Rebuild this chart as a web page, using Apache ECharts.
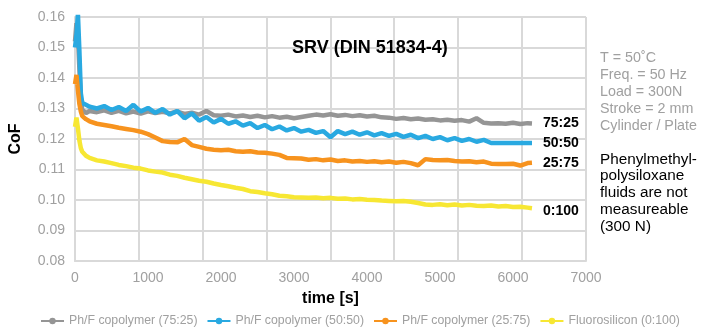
<!DOCTYPE html>
<html>
<head>
<meta charset="utf-8">
<script src="https://cdn.jsdelivr.net/npm/echarts@6/dist/echarts.min.js"></script>
<style>html,body{margin:0;padding:0;background:#fff}#c{width:707px;height:328px}</style>
</head>
<body>
<div id="c"></div>
<script>
const time = [0,20,40,60,80,100,150,200,
  300,400,500,600,700,800,900,1000,1100,1200,
  1300,1400,1500,1600,1700,1800,1900,2000,2100,2200,
  2300,2400,2500,2600,2700,2800,2900,3000,3100,3200,
  3300,3400,3500,3600,3700,3800,3900,4000,4100,4200,
  4300,4400,4500,4600,4700,4800,4900,5000,5100,5200,
  5300,5400,5500,5600,5700,5800,5900,6000,6100,6200,
  6260];
const cof7525 = [0.152,0.158,0.154,0.143,0.133,0.1295,0.1285,0.1292,
  0.1288,0.1294,0.1286,0.1292,0.1284,0.1290,0.1283,0.1291,0.1285,0.1289,
  0.1284,0.1290,0.1282,0.1286,0.1280,0.1292,0.1278,0.1276,0.1280,0.1274,
  0.1277,0.1272,0.1276,0.1271,0.1275,0.1270,0.1273,0.1268,0.1272,0.1276,
  0.1280,0.1277,0.1281,0.1276,0.1279,0.1275,0.1278,0.1274,0.1276,0.1271,
  0.1270,0.1266,0.1269,0.1265,0.1267,0.1263,0.1265,0.1261,0.1263,0.1260,
  0.1262,0.1257,0.1268,0.1253,0.1251,0.1252,0.1250,0.1253,0.1249,0.1252,
  0.1251];
const cof5050 = [0.150,0.154,0.161,0.149,0.135,0.1318,0.1312,0.1306,
  0.1300,0.1308,0.1295,0.1305,0.1292,0.1312,0.1290,0.1302,0.1286,0.1298,
  0.1280,0.1292,0.1268,0.1284,0.1260,0.1272,0.1254,0.1266,0.1250,0.1258,
  0.1244,0.1252,0.1236,0.1246,0.1232,0.1241,0.1228,0.1236,0.1224,0.1230,
  0.1220,0.1226,0.1206,0.1226,0.1216,0.1224,0.1214,0.1222,0.1212,0.1219,
  0.1210,0.1217,0.1207,0.1214,0.1203,0.1210,0.1200,0.1206,0.1196,0.1203,
  0.1194,0.1200,0.1191,0.1197,0.1187,0.1187,0.1187,0.1187,0.1187,0.1187,
  0.1187];
const cof2575 = [0.138,0.141,0.136,0.1315,0.129,0.1275,0.1265,0.1258,
  0.1250,0.1246,0.1242,0.1237,0.1233,0.1229,0.1224,0.1216,0.1205,0.1193,
  0.1190,0.1189,0.1200,0.1180,0.1174,0.1168,0.1165,0.1163,0.1165,0.1160,
  0.1158,0.1160,0.1156,0.1155,0.1152,0.1148,0.1138,0.1137,0.1136,0.1132,
  0.1134,0.1130,0.1133,0.1128,0.1130,0.1126,0.1128,0.1125,0.1127,0.1124,
  0.1126,0.1122,0.1125,0.1121,0.1114,0.1134,0.1131,0.1130,0.1131,0.1128,
  0.1126,0.1127,0.1124,0.1126,0.1119,0.1118,0.1118,0.1119,0.1113,0.1121,
  0.1122];
const cof0100 = [0.124,0.127,0.1235,0.1195,0.117,0.1158,0.1145,0.1138,
  0.1130,0.1126,0.1121,0.1115,0.1111,0.1106,0.1103,0.1097,0.1093,0.1090,
  0.1083,0.1079,0.1073,0.1068,0.1063,0.1060,0.1054,0.1049,0.1045,0.1040,
  0.1036,0.1029,0.1026,0.1022,0.1019,0.1014,0.1012,0.1009,0.1008,0.1007,
  0.1008,0.1006,0.1007,0.1004,0.1005,0.1002,0.1003,0.1001,0.1000,0.0998,
  0.0997,0.0996,0.0997,0.0994,0.0990,0.0985,0.0984,0.0986,0.0983,0.0985,
  0.0982,0.0984,0.0981,0.0980,0.0982,0.0979,0.0980,0.0977,0.0978,0.0975,
  0.0973];
const seriesNames = ['Ph/F copolymer (75:25)','Ph/F copolymer (50:50)','Ph/F copolymer (25:75)','Fluorosilicon (0:100)'];
const endTags = ['75:25','50:50','25:75','0:100'];
const colors = ['#959595','#29a9e1','#f7931e','#f7e733'];
const values = [cof7525, cof5050, cof2575, cof0100];
const xTicks = [0,1000,2000,3000,4000,5000,6000,7000];
const yTicks = [0.08,0.09,0.10,0.11,0.12,0.13,0.14,0.15,0.16];
const vGridX = [875,1750,2625,3500,4375,5250,6125,7000];
const titleText = 'SRV (DIN 51834-4)';
const condText = ['T = 50\u02DAC','Freq. = 50 Hz','Load = 300N','Stroke = 2 mm','Cylinder / Plate'];
const noteText = ['Phenylmethyl-','polysiloxane','fluids are not','measureable','(300 N)'];

const FF = '"Liberation Sans", Arial, sans-serif';
const GRID = '#d9d9d9';
const yMin = yTicks[0], yMax = yTicks[yTicks.length-1];
const chart = echarts.init(document.getElementById('c'));

const gridSeries = {
  type: 'custom', name: 'vgrid', silent: true, z: 1,
  data: vGridX.map(x => [x]),
  encode: {x: 0},
  renderItem: (params, api) => {
    const p1 = api.coord([api.value(0), yMin]);
    const p2 = api.coord([api.value(0), yMax]);
    return {type: 'line', shape: {x1: Math.round(p1[0]), y1: p1[1], x2: Math.round(p2[0]), y2: p2[1]},
      style: {stroke: GRID, lineWidth: 2}};
  }
};

chart.setOption({
  animation: false,
  textStyle: {fontFamily: FF},
  title: {text: titleText, left: 292, top: 39, padding: 0, textStyle: {fontSize: 18, fontWeight: 'bold', color: '#000', fontFamily: FF}},
  grid: {left: 75, right: 121, top: 17, bottom: 67},
  legend: {
    data: seriesNames, left: 40, top: 315, padding: 0, itemWidth: 23, itemHeight: 8, itemGap: 9,
    textStyle: {color: '#a0a0a0', fontSize: 12.3, fontFamily: FF}
  },
  xAxis: {
    type: 'value', min: xTicks[0], max: xTicks[xTicks.length-1], interval: xTicks[1]-xTicks[0],
    axisLine: {show: true, onZero: false, lineStyle: {color: GRID, width: 2}},
    axisTick: {show: false}, splitLine: {show: false},
    axisLabel: {color: '#a0a0a0', fontSize: 14, margin: 10, fontFamily: FF, formatter: v => String(v)},
    name: 'time [s]', nameLocation: 'middle', nameGap: 30,
    nameTextStyle: {fontWeight: 'bold', fontSize: 16, color: '#000', fontFamily: FF}
  },
  yAxis: {
    type: 'value', min: yMin, max: yMax, interval: 0.01,
    axisLine: {show: true, lineStyle: {color: GRID, width: 2}},
    axisTick: {show: false},
    splitLine: {show: true, lineStyle: {color: GRID, width: 2}},
    axisLabel: {color: '#a0a0a0', fontSize: 14, margin: 10, fontFamily: FF, formatter: v => v.toFixed(2)},
    name: 'CoF', nameLocation: 'middle', nameGap: 51,
    nameTextStyle: {fontWeight: 'bold', fontSize: 16, color: '#000', fontFamily: FF}
  },
  series: [gridSeries].concat(values.map((arr, k) => ({
    name: seriesNames[k], type: 'line', z: 3,
    data: time.map((t, i) => [t, arr[i]]),
    showSymbol: false, symbol: 'circle', symbolSize: 8,
    color: colors[k],
    lineStyle: {width: 4.5, color: colors[k]},
    endLabel: {show: true, formatter: endTags[k], fontWeight: 'bold', fontSize: 14, color: '#000', distance: 11,
      offset: k === 3 ? [0, 3] : [0, 0], fontFamily: FF}
  }))),
  graphic: [
    {type: 'text', left: 600, top: 50, style: {text: condText.join('\n'), fill: '#a0a0a0', fontSize: 14.3, fontFamily: FF, lineHeight: 17}},
    {type: 'text', left: 600, top: 151, style: {text: noteText.join('\n'), fill: '#000', fontSize: 15.3, fontFamily: FF, lineHeight: 16.8}}
  ]
});
</script>
</body>
</html>
